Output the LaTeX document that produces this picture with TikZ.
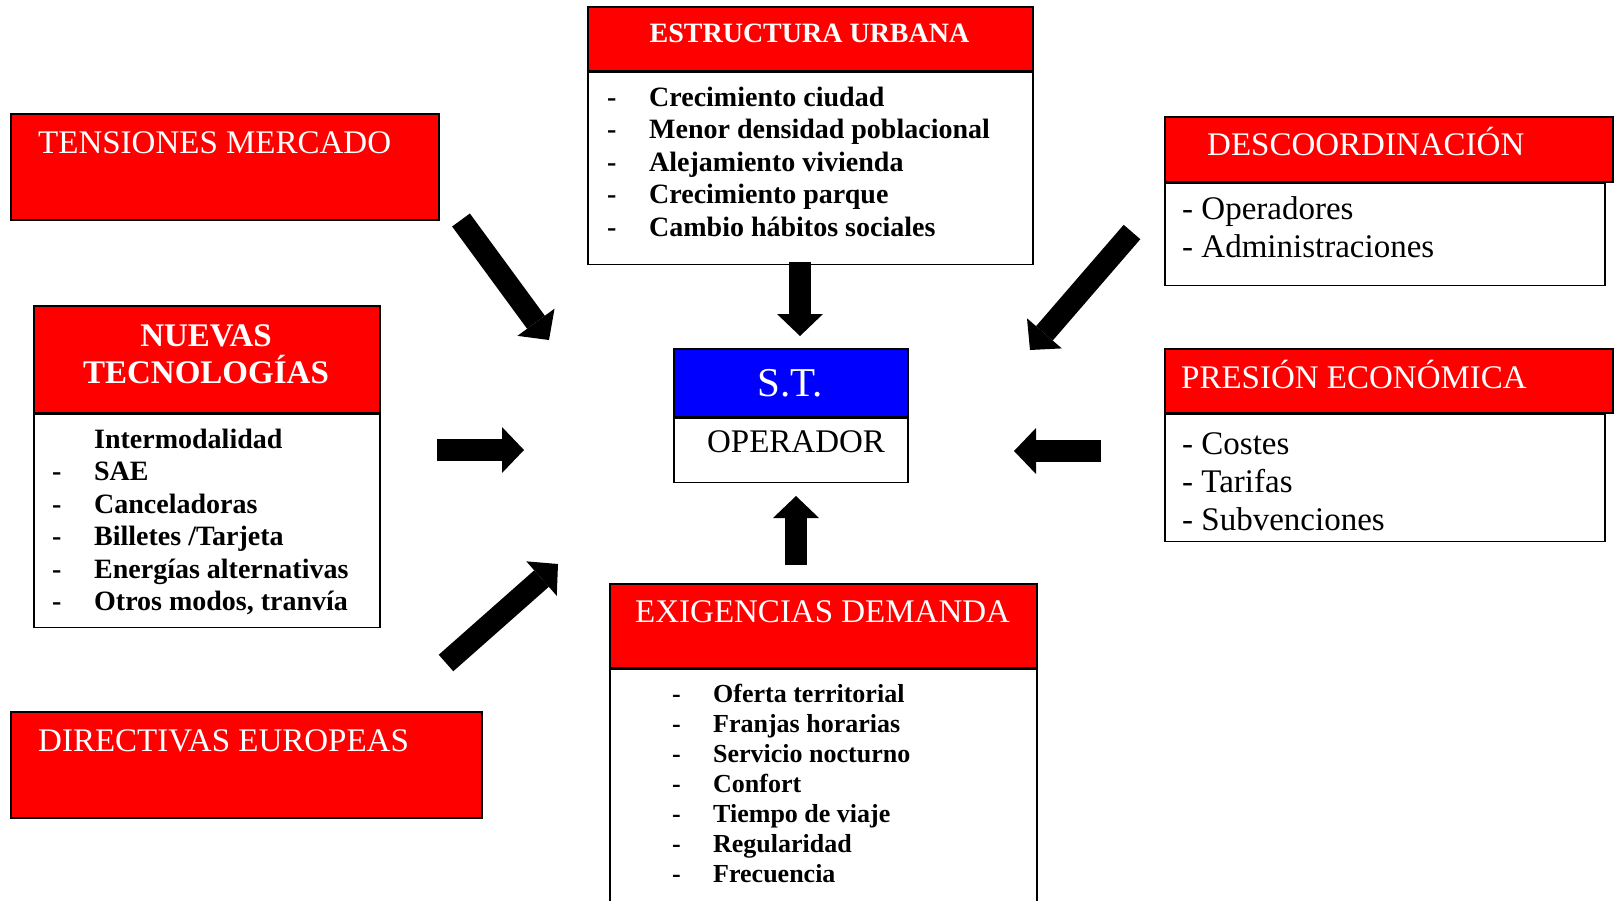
\documentclass[tikz,border=0pt]{standalone}
\usepackage{fontspec}
\setmainfont{Liberation Serif}
\usepackage{tikz}
\usetikzlibrary{arrows.meta,positioning}
\usepackage{xcolor}
\definecolor{stred}{RGB}{255,0,0}
\definecolor{stblue}{RGB}{0,0,255}
\tikzstyle{redhead} = [rectangle, draw=black, fill=stred, line width=1.5pt, inner sep=0pt, anchor=north west]
\tikzstyle{listbox} = [rectangle, draw=black, fill=white, line width=1.5pt, inner sep=0pt, anchor=north west]
\tikzstyle{headtext} = [text=white, font=\fontsize{33}{37}\selectfont, inner sep=0pt, anchor=base west]
\tikzstyle{plaintext} = [text=black, font=\fontsize{33}{38.5}\selectfont, inner sep=0pt, anchor=base west]
\tikzstyle{listtext} = [text=black, font=\fontsize{28}{32.5}\selectfont\bfseries, inner sep=0pt, anchor=base west]
\tikzstyle{bigarrow} = [line width=22pt, -{Triangle[width=46pt, length=22pt, line width=0pt]}]

\begin{document}
\begin{tikzpicture}[x=1pt, y=-1pt]
\useasboundingbox (0,0) rectangle (1615,900);
\clip (0,0) rectangle (1615,900);

% Left column
\node[redhead, minimum width=428pt, minimum height=106pt] (tensiones) at (10,113) {};
\node[headtext] (tensionestxt) at (38,153) {TENSIONES MERCADO};

\node[redhead, minimum width=346pt, minimum height=107pt] (nuevas) at (33,305) {};
\node[listbox, minimum width=346pt, minimum height=213pt] (nuevasbody) at (nuevas.south west) {};
\node[headtext, font=\fontsize{33}{37}\selectfont\bfseries, align=center, anchor=base] (nuevastxt) at (206,383) {NUEVAS\\TECNOLOGÍAS};
\node[listtext] (nuevaslist) at (52,448) {\begin{tabular}[t]{@{}p{42pt}@{}l@{}}
 & Intermodalidad\\
- & SAE\\
- & Canceladoras\\
- & Billetes /Tarjeta\\
- & Energías alternativas\\
- & Otros modos, tranvía
\end{tabular}};

\node[redhead, minimum width=471pt, minimum height=106pt] (directivas) at (10,711) {};
\node[headtext] (directivastxt) at (38,751) {DIRECTIVAS EUROPEAS};

% Central node
\node[redhead, fill=stblue, minimum width=234pt, minimum height=68pt] (st) at (673,348) {};
\node[listbox, minimum width=234pt, minimum height=64pt] (stbody) at (st.south west) {};
\node[headtext, font=\fontsize{41}{45}\selectfont, anchor=base] (sttxt) at (790,396) {S.T.};
\node[plaintext, anchor=base] (operadortxt) at (796,452) {OPERADOR};

% Top and bottom
\node[redhead, minimum width=445pt, minimum height=64pt] (estructura) at (587,6) {};
\node[listbox, minimum width=445pt, minimum height=192pt] (estructurabody) at (estructura.south west) {};
\node[headtext, font=\fontsize{28}{32}\selectfont\bfseries, anchor=base] (estructuratxt) at (809.5,42) {ESTRUCTURA URBANA};
\node[listtext] (estructuralist) at (607,106) {\begin{tabular}[t]{@{}p{42pt}@{}l@{}}
- & Crecimiento ciudad\\
- & Menor densidad poblacional\\
- & Alejamiento vivienda\\
- & Crecimiento parque\\
- & Cambio hábitos sociales
\end{tabular}};

\node[redhead, minimum width=427pt, minimum height=84pt] (exigencias) at (609,583) {};
\node[listbox, minimum width=427pt, minimum height=240pt] (exigenciasbody) at (exigencias.south west) {};
\node[headtext] (exigenciastxt) at (635,622) {EXIGENCIAS DEMANDA};
\node[listtext, font=\fontsize{26}{30}\selectfont\bfseries] (exigenciaslist) at (672,702) {\begin{tabular}[t]{@{}p{41pt}@{}l@{}}
- & Oferta territorial\\
- & Franjas horarias\\
- & Servicio nocturno\\
- & Confort\\
- & Tiempo de viaje\\
- & Regularidad\\
- & Frecuencia
\end{tabular}};

% Right column
\node[redhead, minimum width=448pt, minimum height=65pt] (descoord) at (1164,116) {};
\node[listbox, minimum width=440pt, minimum height=102pt] (descoordbody) at (descoord.south west) {};
\node[headtext] (descoordtxt) at (1207,155) {DESCOORDINACIÓN};
\node[plaintext] (descoordlist) at (1182,219) {\begin{tabular}[t]{@{}l@{}}
- Operadores\\
- Administraciones
\end{tabular}};

\node[redhead, minimum width=448pt, minimum height=64pt] (presion) at (1164,348) {};
\node[listbox, minimum width=440pt, minimum height=127pt] (presionbody) at (presion.south west) {};
\node[headtext] (presiontxt) at (1181,388) {PRESIÓN ECONÓMICA};
\node[plaintext, font=\fontsize{33}{38}\selectfont] (presionlist) at (1182,454) {\begin{tabular}[t]{@{}l@{}}
- Costes\\
- Tarifas\\
- Subvenciones
\end{tabular}};

% Arrow ends
\coordinate (tensionesA) at (461,220);
\coordinate (tensionesB) at (549,340);
\coordinate (nuevasA) at (437,450);
\coordinate (nuevasB) at (524,450);
\coordinate (directivasA) at (446,663);
\coordinate (directivasB) at (558,564);
\coordinate (estructuraA) at (800,262);
\coordinate (estructuraB) at (800,336);
\coordinate (descoordA) at (1132,232);
\coordinate (descoordB) at (1030,350);
\coordinate (presionA) at (1101,451);
\coordinate (presionB) at (1014,451);
\coordinate (exigenciasA) at (796,565);
\coordinate (exigenciasB) at (796,496);

% Connections
\draw[bigarrow] (tensionesA) -- (tensionesB);
\draw[bigarrow] (nuevasA) -- (nuevasB);
\draw[bigarrow] (directivasA) -- (directivasB);
\draw[bigarrow] (estructuraA) -- (estructuraB);
\draw[bigarrow] (descoordA) -- (descoordB);
\draw[bigarrow] (presionA) -- (presionB);
\draw[bigarrow] (exigenciasA) -- (exigenciasB);
\end{tikzpicture}
\end{document}
